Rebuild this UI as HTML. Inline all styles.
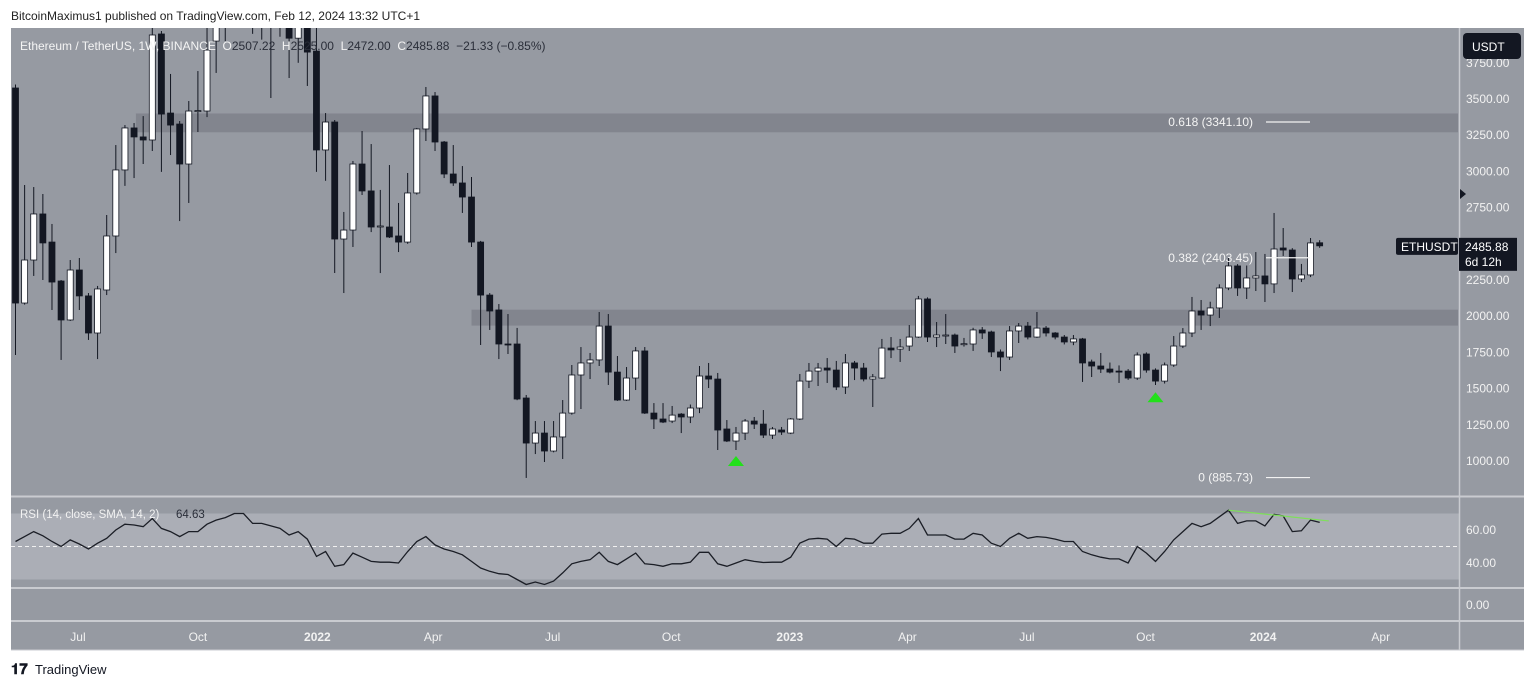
<!DOCTYPE html>
<html><head><meta charset="utf-8">
<style>
html,body{margin:0;padding:0;background:#fff;width:1536px;height:688px;overflow:hidden;font-family:"Liberation Sans",sans-serif}
svg{display:block}
</style></head>
<body>
<svg id="chart" width="1536" height="688" viewBox="0 0 1536 688" xmlns="http://www.w3.org/2000/svg">
<defs><clipPath id="mainClip"><rect x="11" y="28" width="1448" height="467"/></clipPath>
<clipPath id="rsiClip"><rect x="11" y="497" width="1448" height="91"/></clipPath></defs>
<text x="11" y="20" font-size="12" fill="#222">BitcoinMaximus1 published on TradingView.com, Feb 12, 2024 13:32 UTC+1</text>
<rect x="11" y="28" width="1513" height="622" fill="#969aa2"/>
<g id="zones"></g>
<g id="candles" clip-path="url(#mainClip)"></g>
<g id="rsi"></g>
<g id="overlay"></g>
<g id="axes"></g>
<g><text x="11" y="674" font-size="15" font-weight="bold" fill="#131722">𝟏𝟕</text><text x="35" y="674" font-size="13" fill="#131722">TradingView</text></g>
</svg>
<script>
const opens=[3576,2091,2388,2706,2512,2243,1974,2319,2140,1884,2181,2554,3010,3300,3238,3217,3949,3403,3327,3051,3417,3417,3900,4100,4300,4550,4450,4250,4300,4100,4200,3920,4100,3831,3148,3341,2533,2595,3051,2865,2616,2616,2554,2512,2851,3293,3521,3203,2982,2920,2823,2512,2146,2043,1808,1808,1435,1124,1193,1069,1166,1331,1594,1677,1698,1932,1614,1421,1573,1760,1331,1290,1276,1324,1304,1366,1587,1566,1221,1138,1193,1276,1255,1179,1214,1193,1290,1552,1621,1642,1628,1511,1677,1642,1566,1573,1780,1773,1794,1856,2119,1856,1868,1870,1808,1808,1905,1891,1753,1718,1898,1932,1856,1918,1884,1856,1822,1843,1684,1656,1635,1621,1621,1573,1739,1628,1552,1663,1794,1884,2036,2008,2057,2195,2347,2195,2264,2278,2223,2471,2457,2257,2285,2507.22];
const highs=[3600,2906,2892,2844,2637,2250,2388,2402,2160,2209,2699,3182,3320,3334,3382,4030,3970,3673,3348,3486,3693,4000,4150,4400,4650,4700,4600,4450,4400,4350,4300,4150,4150,3990,3403,3355,2720,3072,3279,3189,2872,3044,2782,2989,3300,3583,3548,3210,3182,3037,2961,2520,2160,2084,2015,1919,1456,1276,1276,1276,1421,1663,1787,1746,2029,2015,1725,1649,1787,1787,1400,1400,1380,1331,1390,1656,1677,1608,1283,1235,1290,1304,1352,1235,1235,1297,1601,1677,1677,1711,1691,1739,1691,1677,1601,1843,1856,1843,1939,2140,2130,1960,2015,1880,1850,1920,1925,1900,1770,1932,1953,1960,2029,1932,1890,1870,1870,1850,1700,1746,1680,1660,1635,1750,1750,1640,1680,1863,1918,2133,2112,2100,2220,2402,2360,2350,2443,2430,2713,2609,2470,2361,2540,2525];
const lows=[1732,2080,2278,2250,2043,1698,1967,2043,1836,1704,2146,2436,2900,2954,3051,3141,2997,3113,2657,2782,3272,3375,3680,3900,4150,4150,3950,3910,3507,3930,3645,3750,3590,2997,2935,2298,2160,2478,2837,2581,2298,2540,2443,2500,2840,3210,3141,2954,2900,2713,2478,1801,1905,1704,1739,1420,883,1048,993,1060,1014,1320,1359,1566,1656,1525,1415,1415,1490,1325,1221,1262,1262,1193,1262,1331,1504,1076,1131,1076,1145,1221,1159,1152,1180,1186,1283,1504,1518,1539,1490,1463,1559,1550,1373,1566,1711,1684,1760,1850,1822,1787,1808,1746,1790,1760,1843,1718,1621,1698,1815,1840,1850,1860,1840,1805,1800,1546,1580,1608,1605,1539,1560,1560,1610,1525,1535,1650,1780,1856,1905,1932,1988,2180,2140,2119,2174,2098,2160,2416,2167,2236,2270,2472];
const closes=[2091,2388,2706,2506,2236,1974,2319,2140,1884,2188,2554,3010,3300,3238,3217,3942,3396,3320,3051,3417,3420,3838,4100,4300,4550,4450,4250,4300,4100,4200,3920,4100,3824,3148,3341,2533,2595,3051,2865,2616,2623,2547,2512,2851,3293,3521,3203,2982,2920,2823,2512,2146,2036,1808,1805,1428,1124,1193,1069,1166,1331,1594,1677,1698,1932,1614,1421,1573,1760,1331,1290,1269,1317,1304,1366,1587,1566,1214,1138,1193,1276,1255,1179,1221,1200,1290,1552,1621,1642,1628,1511,1677,1642,1566,1580,1780,1767,1787,1856,2119,1856,1870,1870,1794,1810,1905,1884,1753,1718,1898,1932,1856,1918,1884,1856,1822,1843,1677,1656,1635,1614,1620,1573,1732,1628,1552,1663,1794,1884,2036,2008,2057,2195,2347,2195,2264,2278,2223,2464,2457,2257,2285,2506,2485.88];
const rsiValues=[53,56,59,56.5,53,50,54,51.5,48.5,52,55,60,63.5,63,62,67,61,59,56,59,59,63.5,66,67.5,70,70,64,64,62.5,61,57,59,54.5,44,47,38,39,46,43.5,41,40.5,40.5,40,47,53,56,51,48.5,47,45,41,37,35,33.5,33,30,27,28.5,27,29,34,39.5,41,42,46.5,41,39,42.5,46,39.5,39,38,39.5,39.5,40.5,46.5,46.5,39.5,38,40,42,41,40.3,40.5,40.5,43.5,52,54.5,55,54.5,50,55,54.5,52,52,57.5,58,58,61,67,57,57,57,54.5,54.5,58,57,52,50,55,58,55,56,55.5,54.5,53,53,47,45,43.5,42.5,42.5,40,50,46,41,47,54,59,64,62,64,68,72,64,65.5,65.5,62.5,69.5,68.5,59,59.5,66,64.63];
const priceTicks=[3750,3500,3250,3000,2750,2250,2000,1750,1500,1250,1000];
const rsiTicks=[60,40];
const timeLabels=["Jul","Oct","2022","Apr","Jul","Oct","2023","Apr","Jul","Oct","2024","Apr"];
const timeWeeks=[6.85,20.0,33.1,45.8,58.9,71.9,84.9,97.8,110.9,123.9,136.8,149.7];
const zoneLow=[3270,1935];const zoneHigh=[3400,2045];const zoneStart=[13.2,50.0];
const fibLevels=[0.618,0.382,0];const fibPrices=[3341.10,2403.45,885.73];
const markerIdx=[79,125];const markerPrice=[1000,1440];

const NS="http://www.w3.org/2000/svg";
const xS=i=>15.5+i*9.12;
const yP=p=>99+(3500-p)*0.1448;
const yR=r=>530+(60-r)*1.65;
function mk(tag,attrs,parent,txt){const e=document.createElementNS(NS,tag);for(const k in attrs)e.setAttribute(k,attrs[k]);if(txt!==undefined)e.textContent=txt;parent.appendChild(e);return e;}
const G=id=>document.getElementById(id);

// zones
for(let z=0;z<zoneLow.length;z++){const x=xS(zoneStart[z]);
 const r=mk('rect',{x:x,y:yP(zoneHigh[z]),width:1458-x,height:yP(zoneLow[z])-yP(zoneHigh[z]),fill:'#82858e'},G('zones'));
 
 }

// candles
for(let i=0;i<opens.length;i++){const x=xS(i),o=opens[i],c=closes[i],up=c>=o;
 const g=mk('g',{},G('candles'));
 
 
 mk('line',{x1:x,x2:x,y1:yP(highs[i]),y2:yP(lows[i]),stroke:'#131722','stroke-width':1},g);
 const top=yP(Math.max(o,c)),bot=yP(Math.min(o,c));
 mk('rect',{x:x-3,y:top,width:6,height:Math.max(1,bot-top),fill:up?'#ffffff':'#131722',stroke:'#131722','stroke-width':0.8},g);}

// markers
for(let m=0;m<markerIdx.length;m++){const x=xS(markerIdx[m]),y=yP(markerPrice[m]);
 const t=mk('polygon',{points:`${x-8},${y+5} ${x},${y-5} ${x+8},${y+5}`,fill:'#22e01a'},G('overlay'));
 
 }

// fib lines
for(let f=0;f<fibLevels.length;f++){const y=yP(fibPrices[f]);
 const g=mk('g',{},G('overlay'));
 
 
 mk('line',{x1:1266,x2:1310,y1:y,y2:y,stroke:'#f2f2f2','stroke-width':1.2},g);
 mk('text',{x:1253,y:y+4,'font-size':12,fill:'#f4f4f4','text-anchor':'end'},g,`${fibLevels[f]} (${fibPrices[f].toFixed(2)})`);}

// RSI pane
const rp=G('rsi');
mk('line',{x1:11,x2:1524,y1:496.5,y2:496.5,stroke:'#c9cbd0','stroke-width':2},rp);
const band=mk('rect',{x:11,y:yR(70),width:1448,height:yR(30)-yR(70),fill:'#abaeb6'},rp);


mk('line',{x1:11,x2:1458,y1:yR(50),y2:yR(50),stroke:'#f0f0f0','stroke-dasharray':'4,3','stroke-width':1},rp);
mk('line',{x1:11,x2:1524,y1:588,y2:588,stroke:'#c9cbd0','stroke-width':2},rp);
let d='';rsiValues.forEach((v,i)=>{d+=(i?'L':'M')+xS(i).toFixed(1)+','+yR(v).toFixed(1);});
const rl=mk('path',{d:d,fill:'none',stroke:'#1b1e26','stroke-width':1.3},rp);


const dv=mk('line',{x1:xS(133),y1:yR(72),x2:xS(144),y2:yR(65.5),stroke:'#7ee05a','stroke-width':1.2},rp);


const rt=mk('text',{x:20,y:518,'font-size':11.5,fill:'#f2f2f2'},rp,'RSI (14, close, SMA, 14, 2)');


mk('text',{x:176,y:518,'font-size':11.5,fill:'#2a2e39'},rp,'64.63');

// axes
const ax=G('axes');
mk('line',{x1:1459.5,x2:1459.5,y1:28,y2:650,stroke:'#c9cbd0','stroke-width':1.5},ax);
mk('line',{x1:11,x2:1524,y1:621,y2:621,stroke:'#c9cbd0','stroke-width':2},ax);
mk('line',{x1:11,x2:1524,y1:650,y2:650,stroke:'#c9cbd0','stroke-width':1},ax);
priceTicks.forEach(p=>{const t=mk('text',{x:1466,y:yP(p)+4,'font-size':12,fill:'#f2f2f2'},ax,p.toFixed(2));
 
 });
rsiTicks.forEach(r=>{const t=mk('text',{x:1466,y:yR(r)+4,'font-size':12,fill:'#f2f2f2'},ax,r.toFixed(2));
 
 });
mk('text',{x:1466,y:609,'font-size':12,fill:'#f2f2f2'},ax,'0.00');
timeLabels.forEach((l,k)=>{const bold=/^\d{4}$/.test(l);
 const t=mk('text',{x:xS(timeWeeks[k]),y:641,'font-size':12,fill:'#f2f2f2','text-anchor':'middle','font-weight':bold?'bold':'normal'},ax,l);
 
 });
// currency box
const ub=mk('g',{},ax);


mk('rect',{x:1463,y:33,width:58,height:26,rx:4,fill:'#131722'},ub);
mk('text',{x:1472,y:51,'font-size':12,fill:'#fff'},ub,'USDT');
mk('polygon',{points:'1460,189 1466,194 1460,199',fill:'#131722'},ax);
// last price labels
const lp=mk('g',{},ax);


const ly=yP(closes[closes.length-1]);
mk('rect',{x:1396,y:ly-8,width:62,height:17,rx:2,fill:'#131722'},lp);
mk('text',{x:1401,y:ly+5,'font-size':12,fill:'#fff'},lp,'ETHUSDT');
mk('rect',{x:1459,y:ly-8,width:58,height:33,fill:'#131722'},lp);
mk('text',{x:1465,y:ly+5,'font-size':12,fill:'#fff'},lp,closes[closes.length-1].toFixed(2));
mk('text',{x:1465,y:ly+20,'font-size':12,fill:'#fff'},lp,'6d 12h');
// legend
const lg=mk('text',{x:20,y:50,'font-size':12,fill:'#f2f2f2'},ax);


const parts=[['Ethereum / TetherUS, 1W, BINANCE  ','#f4f4f4'],['O','#f4f4f4'],['2507.22  ','#2a2e39'],['H','#f4f4f4'],['2525.00  ','#2a2e39'],['L','#f4f4f4'],['2472.00  ','#2a2e39'],['C','#f4f4f4'],['2485.88  −21.33 (−0.85%)','#2a2e39']];
parts.forEach(p=>{mk('tspan',{fill:p[1]},lg,p[0]);});
lg.setAttribute('xml:space','preserve');lg.style.whiteSpace='pre';
</script>
</body></html>
